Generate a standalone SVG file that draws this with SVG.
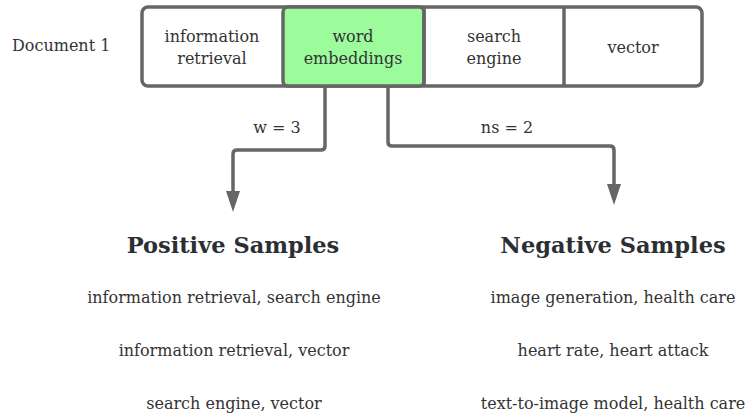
<svg xmlns="http://www.w3.org/2000/svg" width="751" height="416" viewBox="0 0 751 416">
<defs>
<style>
text{font-family:"DejaVu Serif","Liberation Serif",serif;fill:#333;}
.t{font-size:16px;text-anchor:middle;}
.h{font-size:22.5px;font-weight:bold;text-anchor:middle;fill:#2b2f33;}
.s{font-size:16px;text-anchor:middle;}
.box{fill:#fff;stroke:#666;stroke-width:3.5;}
.div{stroke:#666;stroke-width:3.5;}
.con{fill:none;stroke:#666;stroke-width:3.5;stroke-linejoin:round;}
.ah{fill:#666;}
</style>
</defs>
<text x="12" y="51" style="font-size:16px">Document 1</text>
<g id="doc">
<rect class="box" x="142" y="7" width="560" height="79" rx="6"/>
</g>
<g id="n1"><text class="t" x="212" y="42">information</text><text class="t" x="212" y="64">retrieval</text></g>
<g id="n2"><rect x="283" y="7" width="141" height="79" rx="5" fill="#9cfb9b" stroke="#666" stroke-width="3.5"/><text class="t" x="353" y="42">word</text><text class="t" x="353" y="64">embeddings</text></g>
<g id="n3"><line class="div" x1="424" y1="7" x2="424" y2="86"/><text class="t" x="494" y="42">search</text><text class="t" x="494" y="64">engine</text></g>
<g id="n4"><line class="div" x1="564" y1="7" x2="564" y2="86"/><text class="t" x="633" y="53">vector</text></g>
<g id="connectors">
<path class="con" d="M325 87 V146 Q325 150 321 150 H237 Q233 150 233 154 V192"/>
<polygon class="ah" points="226,191 240,191 233,212"/>
<path class="con" d="M388 87 V142 Q388 146 392 146 H610 Q614 146 614 150 V185"/>
<polygon class="ah" points="607,184 621,184 614,205"/>
<text class="t" x="277" y="133">w = 3</text>
<text class="t" x="507" y="133">ns = 2</text>
</g>
<g id="pos">
<text class="h" x="233" y="253">Positive Samples</text>
<text class="s" x="234" y="303">information retrieval, search engine</text>
<text class="s" x="234" y="356">information retrieval, vector</text>
<text class="s" x="234" y="409">search engine, vector</text>
</g>
<g id="neg">
<text class="h" x="613" y="253">Negative Samples</text>
<text class="s" x="613" y="303">image generation, health care</text>
<text class="s" x="613" y="356">heart rate, heart attack</text>
<text class="s" x="613" y="409">text-to-image model, health care</text>
</g>
</svg>
